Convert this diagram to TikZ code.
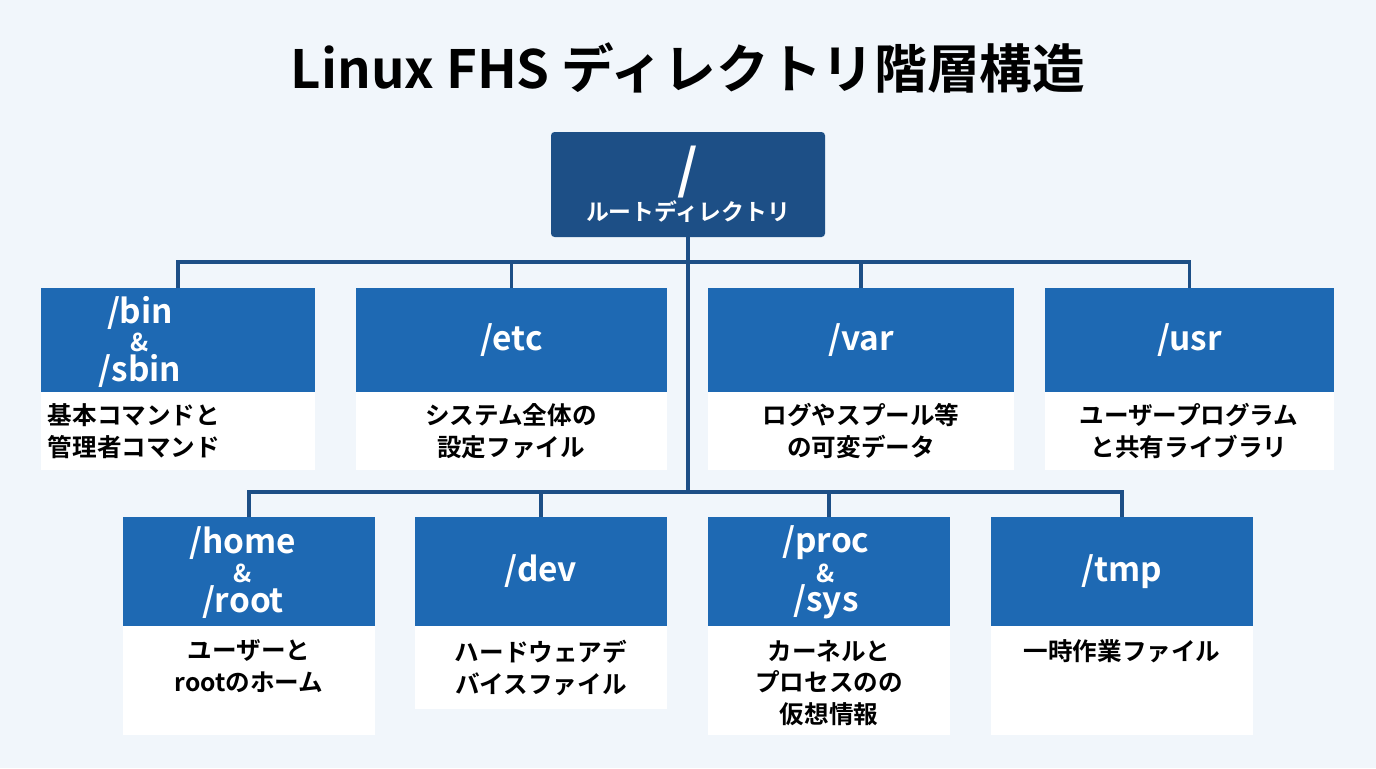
\documentclass[tikz,border=0pt]{standalone}
\usepackage{fontspec}
\setmainfont{Noto Sans CJK JP}[BoldFont={* Bold}]
\usetikzlibrary{positioning}
\definecolor{bgcol}{HTML}{F1F6FB}
\definecolor{rootcol}{HTML}{1D4F86}
\definecolor{headcol}{HTML}{1E69B3}
\definecolor{linecol}{HTML}{1D4F86}
\begin{document}
\begin{tikzpicture}[x=0.02cm,y=-0.02cm,inner sep=0pt,outer sep=0pt,
head/.style={fill=headcol,text=white,font=\bfseries\fontsize{19}{19}\selectfont,align=center,anchor=north west},
desc/.style={fill=white,anchor=north west},
htxt/.style={text=white,font=\bfseries\fontsize{19}{19}\selectfont},
amp/.style={text=white,font=\bfseries\fontsize{14}{14}\selectfont},
dtxt/.style={font=\bfseries\fontsize{14}{18}\selectfont,align=center},
link/.style={draw=linecol,line width=1.8pt}]
\fill[bgcol] (0,0) rectangle (1376,768);
\node[font=\bfseries\fontsize{30}{30}\selectfont] (title) at (688,68) {Linux FHS ディレクトリ階層構造};
% root
\node[fill=rootcol,anchor=north west,minimum width=274*0.02cm,minimum height=105*0.02cm,rounded corners=2pt] (root) at (551,132) {};
\node[text=white,font=\bfseries\fontsize{30}{30}\selectfont] at (688,172) {/};
\node[text=white,font=\bfseries\fontsize{13}{13}\selectfont] at (688,212) {ルートディレクトリ};
% top row
\foreach \nm/\x/\w/\txt in {bin/41/274/{},etc/356/311/{/etc},var/708/306/{/var},usr/1045/289/{/usr}}{
  \node[head,minimum width=\w*0.02cm,minimum height=104*0.02cm] (\nm) at (\x,288) {\txt};
  \node[desc,minimum width=\w*0.02cm,minimum height=78*0.02cm] (\nm d) at (\x,392) {};
}
\node[htxt] at (140,313) {/bin};
\node[amp] at (140,342) {\&};
\node[htxt] at (140,371) {/sbin};
\node[dtxt,align=left,anchor=west] at (48,431) {基本コマンドと\\管理者コマンド};
\node[dtxt] at (511,431) {システム全体の\\設定ファイル};
\node[dtxt] at (861,431) {ログやスプール等\\の可変データ};
\node[dtxt] at (1189,431) {ユーザープログラム\\と共有ライブラリ};
% bottom row
\foreach \nm/\x/\w/\h/\txt in {home/123/252/109/{},dev/415/252/83/{/dev},proc/708/242/109/{},tmp/991/262/109/{/tmp}}{
  \node[head,minimum width=\w*0.02cm,minimum height=109*0.02cm] (\nm) at (\x,517) {\txt};
  \node[desc,minimum width=\w*0.02cm,minimum height=\h*0.02cm] (\nm d) at (\x,626) {};
}
\node[htxt] at (243,543) {/home};
\node[amp] at (243,573) {\&};
\node[htxt] at (243,602) {/root};
\node[htxt] at (826,543) {/proc};
\node[amp] at (826,573) {\&};
\node[htxt] at (826,602) {/sys};
\node[dtxt,anchor=north] at (249,640) {ユーザーと\\rootのホーム};
\node[dtxt,anchor=north] at (541,640) {ハードウェアデ\\バイスファイル};
\node[dtxt,anchor=north] at (829,640) {カーネルと\\プロセスのの\\仮想情報};
\node[dtxt,anchor=north] at (1122,640) {一時作業ファイル};
% connectors
\coordinate (j1) at (688,262);
\coordinate (j2) at (688,492);
\draw[link] (root.south) -- (j2);
\draw[link] (bin.north) |- (j1) -| (usr.north);
\draw[link] (etc.north) |- (j1) -| (var.north);
\draw[link] (home.north) |- (j2) -| (tmp.north);
\draw[link] (dev.north) |- (j2) -| (proc.north);
\end{tikzpicture}
\end{document}
